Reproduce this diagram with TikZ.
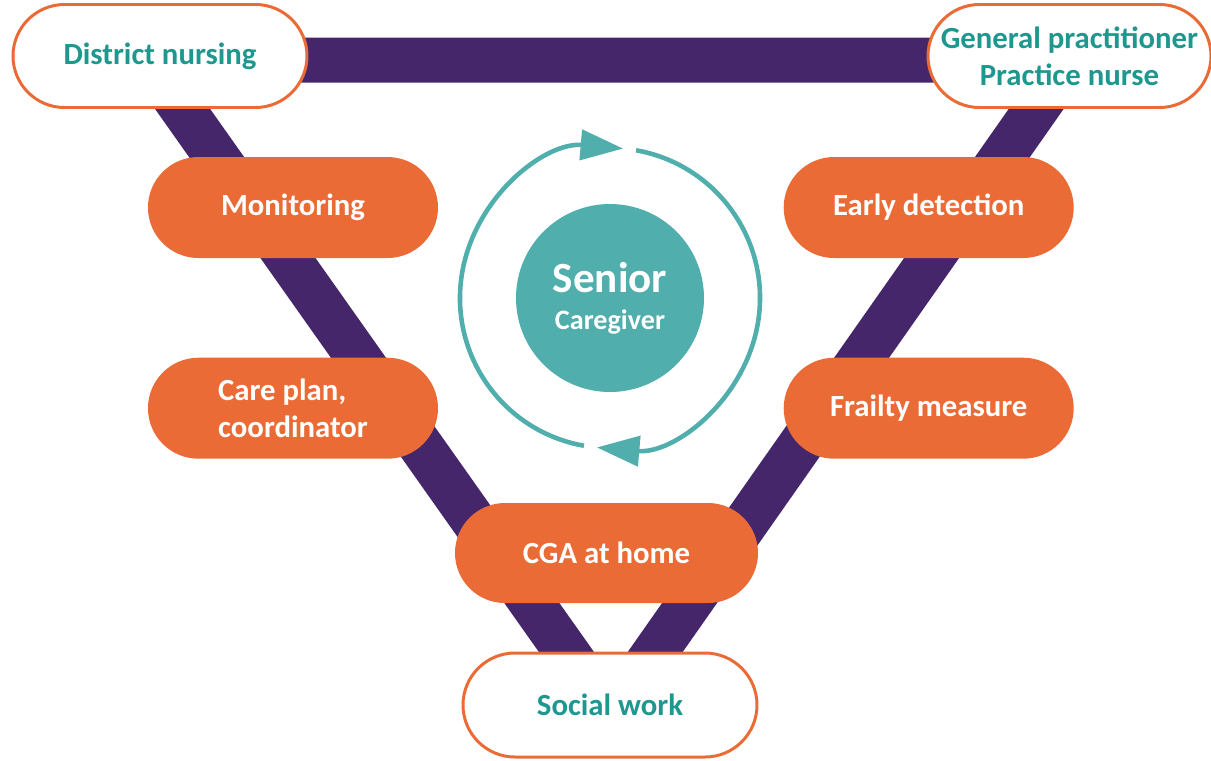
\documentclass[tikz,border=0pt]{standalone}
\usepackage{fontspec}
\setmainfont{Carlito}
\usetikzlibrary{positioning}
\usetikzlibrary{shapes.misc}
\usetikzlibrary{arrows.meta}
\usetikzlibrary{calc}

\definecolor{careorange}{RGB}{234,107,53}
\definecolor{carepurple}{RGB}{69,38,107}
\definecolor{careteal}{RGB}{80,174,172}
\definecolor{tealtext}{RGB}{30,152,142}

\begin{document}
\begin{tikzpicture}
  \useasboundingbox (-12.2,5.96) rectangle (12.02,-9.24);

  \def\gap{1.98cm}
  \def\across{6.9cm}
  \tikzset{box common/.style={rounded rectangle, anchor=center, minimum width=5.8cm, minimum height=2.02cm, inner sep=0pt, font=\fontsize{17.5}{21}\selectfont\bfseries, align=center}}
  \tikzset{task node/.style={box common, fill=careorange, text=white}}
  \tikzset{partner node/.style={box common, draw=careorange, line width=1.7pt, fill=white, text=tealtext}}
  \tikzset{core node/.style={circle, fill=careteal, text=white, minimum size=3.76cm, inner sep=0pt, align=center, font=\fontsize{16}{21}\selectfont\bfseries}}
  \tikzset{bar/.style={carepurple, line width=0.9cm, line join=round}}
  \tikzset{cycle arrow/.style={careteal, line width=2.6pt, -{Triangle[length=0.85cm,width=0.6cm]}}}

  \coordinate (origin) at (0,0);

  % the V frame, drawn first so the boxes sit on it
  \coordinate (tl) at ($(origin)+(-9.24,4.76)$);
  \coordinate (tr) at ($(origin)+(9.21,4.76)$);
  \coordinate (apex) at ($(origin)+(0.02,-8.34)$);
  \draw[bar] (tl) -- (tr) -- (apex) -- cycle;

  \node[core node] (senior) at (origin) {{\fontsize{24.5}{21}\selectfont Senior}\\Caregiver};

  % left and right columns
  \node[task node] (mon) at ($(origin)+(-6.34,1.81)$) {Monitoring};
  \node[task node, below=\gap of mon, align=left] (plan) {Care plan,\\coordinator};
  \node[task node, right=\across of mon] (early) {Early detection};
  \node[task node, below=\gap of early] (frail) {Frailty measure};
  \node[task node, minimum width=6.06cm, minimum height=2.0cm] (cga) at ($(origin)+(-0.07,-5.1)$) {CGA at home};

  % partners at the corners
  \node[partner node, minimum width=5.88cm, minimum height=2.06cm] (dn) at ($(origin)+(-9.0,4.84)$) {District nursing};
  \node[partner node, minimum width=5.66cm, minimum height=2.06cm] (gp) at ($(origin)+(9.19,4.84)$) {General practitioner\\Practice nurse};
  \node[partner node, minimum width=5.88cm, minimum height=2.08cm] (social) at ($(origin)+(0,-8.14)$) {Social work};

  % circular arrows round the caregiver
  \draw[cycle arrow] ($(senior)+(260:3)$) arc[start angle=260, end angle=85, radius=3];
  \draw[cycle arrow] ($(senior)+(80:3)$) arc[start angle=80, end angle=-95, radius=3];
\end{tikzpicture}
\end{document}
